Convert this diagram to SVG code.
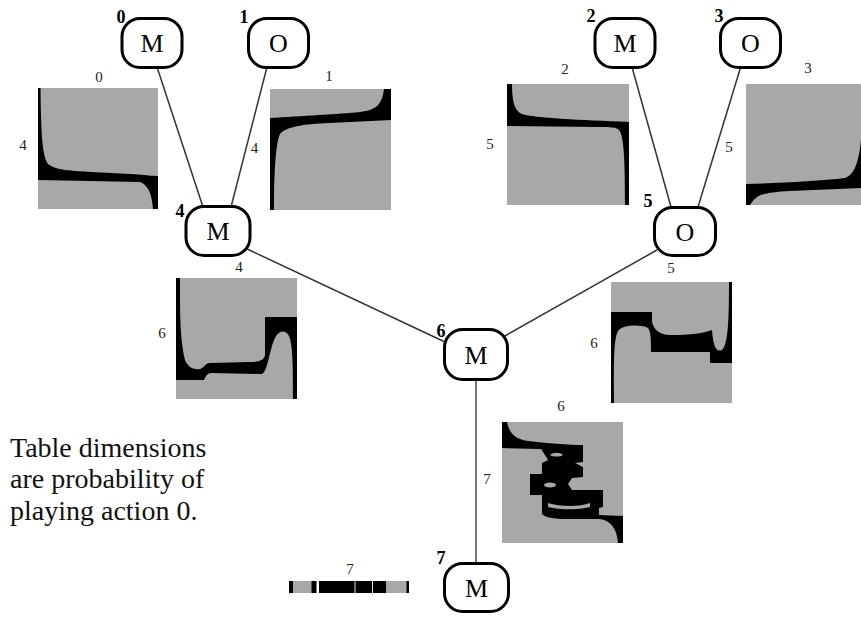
<svg xmlns="http://www.w3.org/2000/svg" width="861" height="617" viewBox="0 0 861 617">
<style>
text{font-family:'Liberation Serif','Times New Roman','DejaVu Serif',serif}
.node rect{fill:#fff;stroke:#000;stroke-width:3}
.node .sym{font-size:26px;text-anchor:middle;fill:#000}
.node .idx{font-size:18px;font-weight:bold;text-anchor:middle;fill:#000}
.lbl{font-size:15px;text-anchor:middle;fill:#222}
.g{fill:#a8a8a8}
.b{fill:#000}
.conn line{stroke:#333;stroke-width:1.5}
.note{font-size:28px;fill:#111}
</style>
<rect width="861" height="617" fill="#fff"/>

<g id="connectors" class="conn">
<line x1="157" y1="67" x2="203" y2="207"/>
<line x1="267" y1="67" x2="231" y2="207"/>
<line x1="632" y1="67" x2="671" y2="207"/>
<line x1="741" y1="66" x2="698" y2="207"/>
<line x1="245" y1="248" x2="445" y2="342"/>
<line x1="657" y1="250" x2="503" y2="337"/>
<line x1="476" y1="381" x2="476" y2="562" style="stroke:#777;stroke-width:2"/>
</g>

<g id="table0">
<rect class="g" x="38" y="88" width="120" height="121"/>
<path class="b" d="M38 88 L40.5 88 C41 130,42 156,48 164 C55 170,72 171,92 172 L130 174 C146 175,154 176,158 176 L158 209 L153 209 C152 196,149 185,140 182 L38 180 Z"/>
<text class="lbl" x="99" y="82">0</text>
<text class="lbl" x="23" y="150">4</text>
</g>

<g id="table1">
<rect class="g" x="270" y="89" width="121" height="121"/>
<path class="b" d="M270 118 C300 116,340 114,360 112 C377 110,382 104,384 89 L391 89 L391 120 L330 123 C302 124,286 127,280 134 C275 145,274 180,274 210 L270 210 Z"/>
<text class="lbl" x="329" y="81">1</text>
<text class="lbl" x="254.5" y="153">4</text>
</g>

<g id="table2">
<rect class="g" x="507" y="84" width="122" height="121"/>
<path class="b" d="M507 84 L512 84 C512 100,514 111,522 114 C535 118,580 120,629 122 L629 205 L625 205 C625 160,624 136,619 130 C616 127,610 127,600 127 L507 126 Z"/>
<text class="lbl" x="565" y="74">2</text>
<text class="lbl" x="490" y="149">5</text>
</g>

<g id="table3">
<rect class="g" x="746" y="84" width="115" height="121"/>
<path class="b" d="M746 184 C780 183,820 181,845 178 C855 175,859 160,861 140 L861 188 L790 191 C770 192,760 194,756 198 C752 201,751 204,750 205 L746 205 Z"/>
<text class="lbl" x="808" y="73">3</text>
<text class="lbl" x="729" y="152">5</text>
</g>

<g id="table4">
<rect class="b" x="176" y="278" width="121" height="121"/>
<path class="g" d="M180 278 L297 278 L297 317 L265 317 L265 355 C264 360,260 362,250 362 L210 363 C205 363,204 368,200 369 C193 370,188 367,185 360 C181 345,180 320,180 300 Z"/>
<path class="g" d="M176 380 L204 380 C206 376,207 373,212 373 L262 374 C268 372,270 345,276 336 C280 330,286 330,289 336 C293 345,293 370,293 399 L176 399 Z"/>
<text class="lbl" x="239" y="272">4</text>
<text class="lbl" x="162" y="338">6</text>
</g>

<g id="table5">
<rect class="b" x="611" y="282" width="121" height="121"/>
<path class="g" d="M611 282 L729 282 C729 320,728 345,722 350 C716 353,713 345,712 330 C705 333,690 335,670 335 C660 335,654 330,652 322 L652 312 L611 312 Z"/>
<path class="g" d="M614 403 C614 370,613 340,618 331 C622 325,640 324,648 328 C651 332,651 340,651 352 L710 352 L710 363 L732 363 L732 403 Z"/>
<text class="lbl" x="671" y="273">5</text>
<text class="lbl" x="594" y="348">6</text>
</g>

<g id="table6">
<rect class="g" x="502" y="422" width="121" height="121"/>
<path class="b" d="M502 422 L507 422 C509 432,514 439,528 441 C545 443,570 445,583 445 L583 450 L540 449 L502 448 Z"/>
<path class="b" d="M540 447 L583 447 L583 462 L575 463 L583 467 L583 477 L572 478 L568 484 L572 490 L603 490 L603 507 L599 508 L599 515 L623 516 L623 543 L618 543 C617 530,612 521,600 519 L560 519 C550 518,545 517,542 514 L542 495 L530 495 L530 474 L542 474 L542 463 L548 460 Z"/>
<ellipse class="g" cx="550" cy="485" rx="6" ry="2.5"/>
<path class="g" d="M550 455 C553 452,560 452,563 455 C560 457,553 457,550 455 Z"/>
<path class="g" d="M548 503 C560 507,580 507,590 503 L590 507 C578 510,560 510,548 507 Z"/>
<text class="lbl" x="561" y="411">6</text>
<text class="lbl" x="487" y="484">7</text>
</g>

<g id="table7">
<rect class="b" x="289" y="581" width="120" height="12"/>
<rect class="g" x="293" y="581" width="18.5" height="12"/>
<rect class="g" x="386" y="581" width="20.5" height="12"/>
<rect fill="#fff" x="316.5" y="581" width="2.5" height="12"/>
<rect fill="#ddd" x="354.5" y="581" width="1" height="12"/>
<rect fill="#ddd" x="372" y="581" width="1" height="12"/>
<text class="lbl" x="350" y="574">7</text>
</g>

<g id="node0" class="node">
<rect x="122" y="18.5" width="60" height="49" rx="18"/>
<text class="sym" x="152" y="52">M</text>
<text class="idx" x="121" y="23">0</text>
</g>
<g id="node1" class="node">
<rect x="248.5" y="18.5" width="60" height="49" rx="18"/>
<text class="sym" x="278.5" y="52">O</text>
<text class="idx" x="244" y="23">1</text>
</g>
<g id="node2" class="node">
<rect x="595" y="18.5" width="60" height="49" rx="18"/>
<text class="sym" x="625" y="52">M</text>
<text class="idx" x="591" y="22">2</text>
</g>
<g id="node3" class="node">
<rect x="720.5" y="18.5" width="60" height="49" rx="18"/>
<text class="sym" x="750.5" y="52">O</text>
<text class="idx" x="719" y="22">3</text>
</g>
<g id="node4" class="node">
<rect x="186" y="206.5" width="64" height="49" rx="18"/>
<text class="sym" x="218" y="240">M</text>
<text class="idx" x="180" y="217">4</text>
</g>
<g id="node5" class="node">
<rect x="654.5" y="207.5" width="61" height="48" rx="18"/>
<text class="sym" x="685" y="241">O</text>
<text class="idx" x="648" y="207">5</text>
</g>
<g id="node6" class="node">
<rect x="444.5" y="329.5" width="63" height="50" rx="18"/>
<text class="sym" x="476" y="364">M</text>
<text class="idx" x="441" y="337">6</text>
</g>
<g id="node7" class="node">
<rect x="444.5" y="563.5" width="64" height="48" rx="18"/>
<text class="sym" x="476.5" y="597">M</text>
<text class="idx" x="441" y="564">7</text>
</g>

<g id="note">
<text class="note" x="10" y="457">Table dimensions</text>
<text class="note" x="10" y="488">are probability of</text>
<text class="note" x="10" y="520">playing action 0.</text>
</g>
</svg>
